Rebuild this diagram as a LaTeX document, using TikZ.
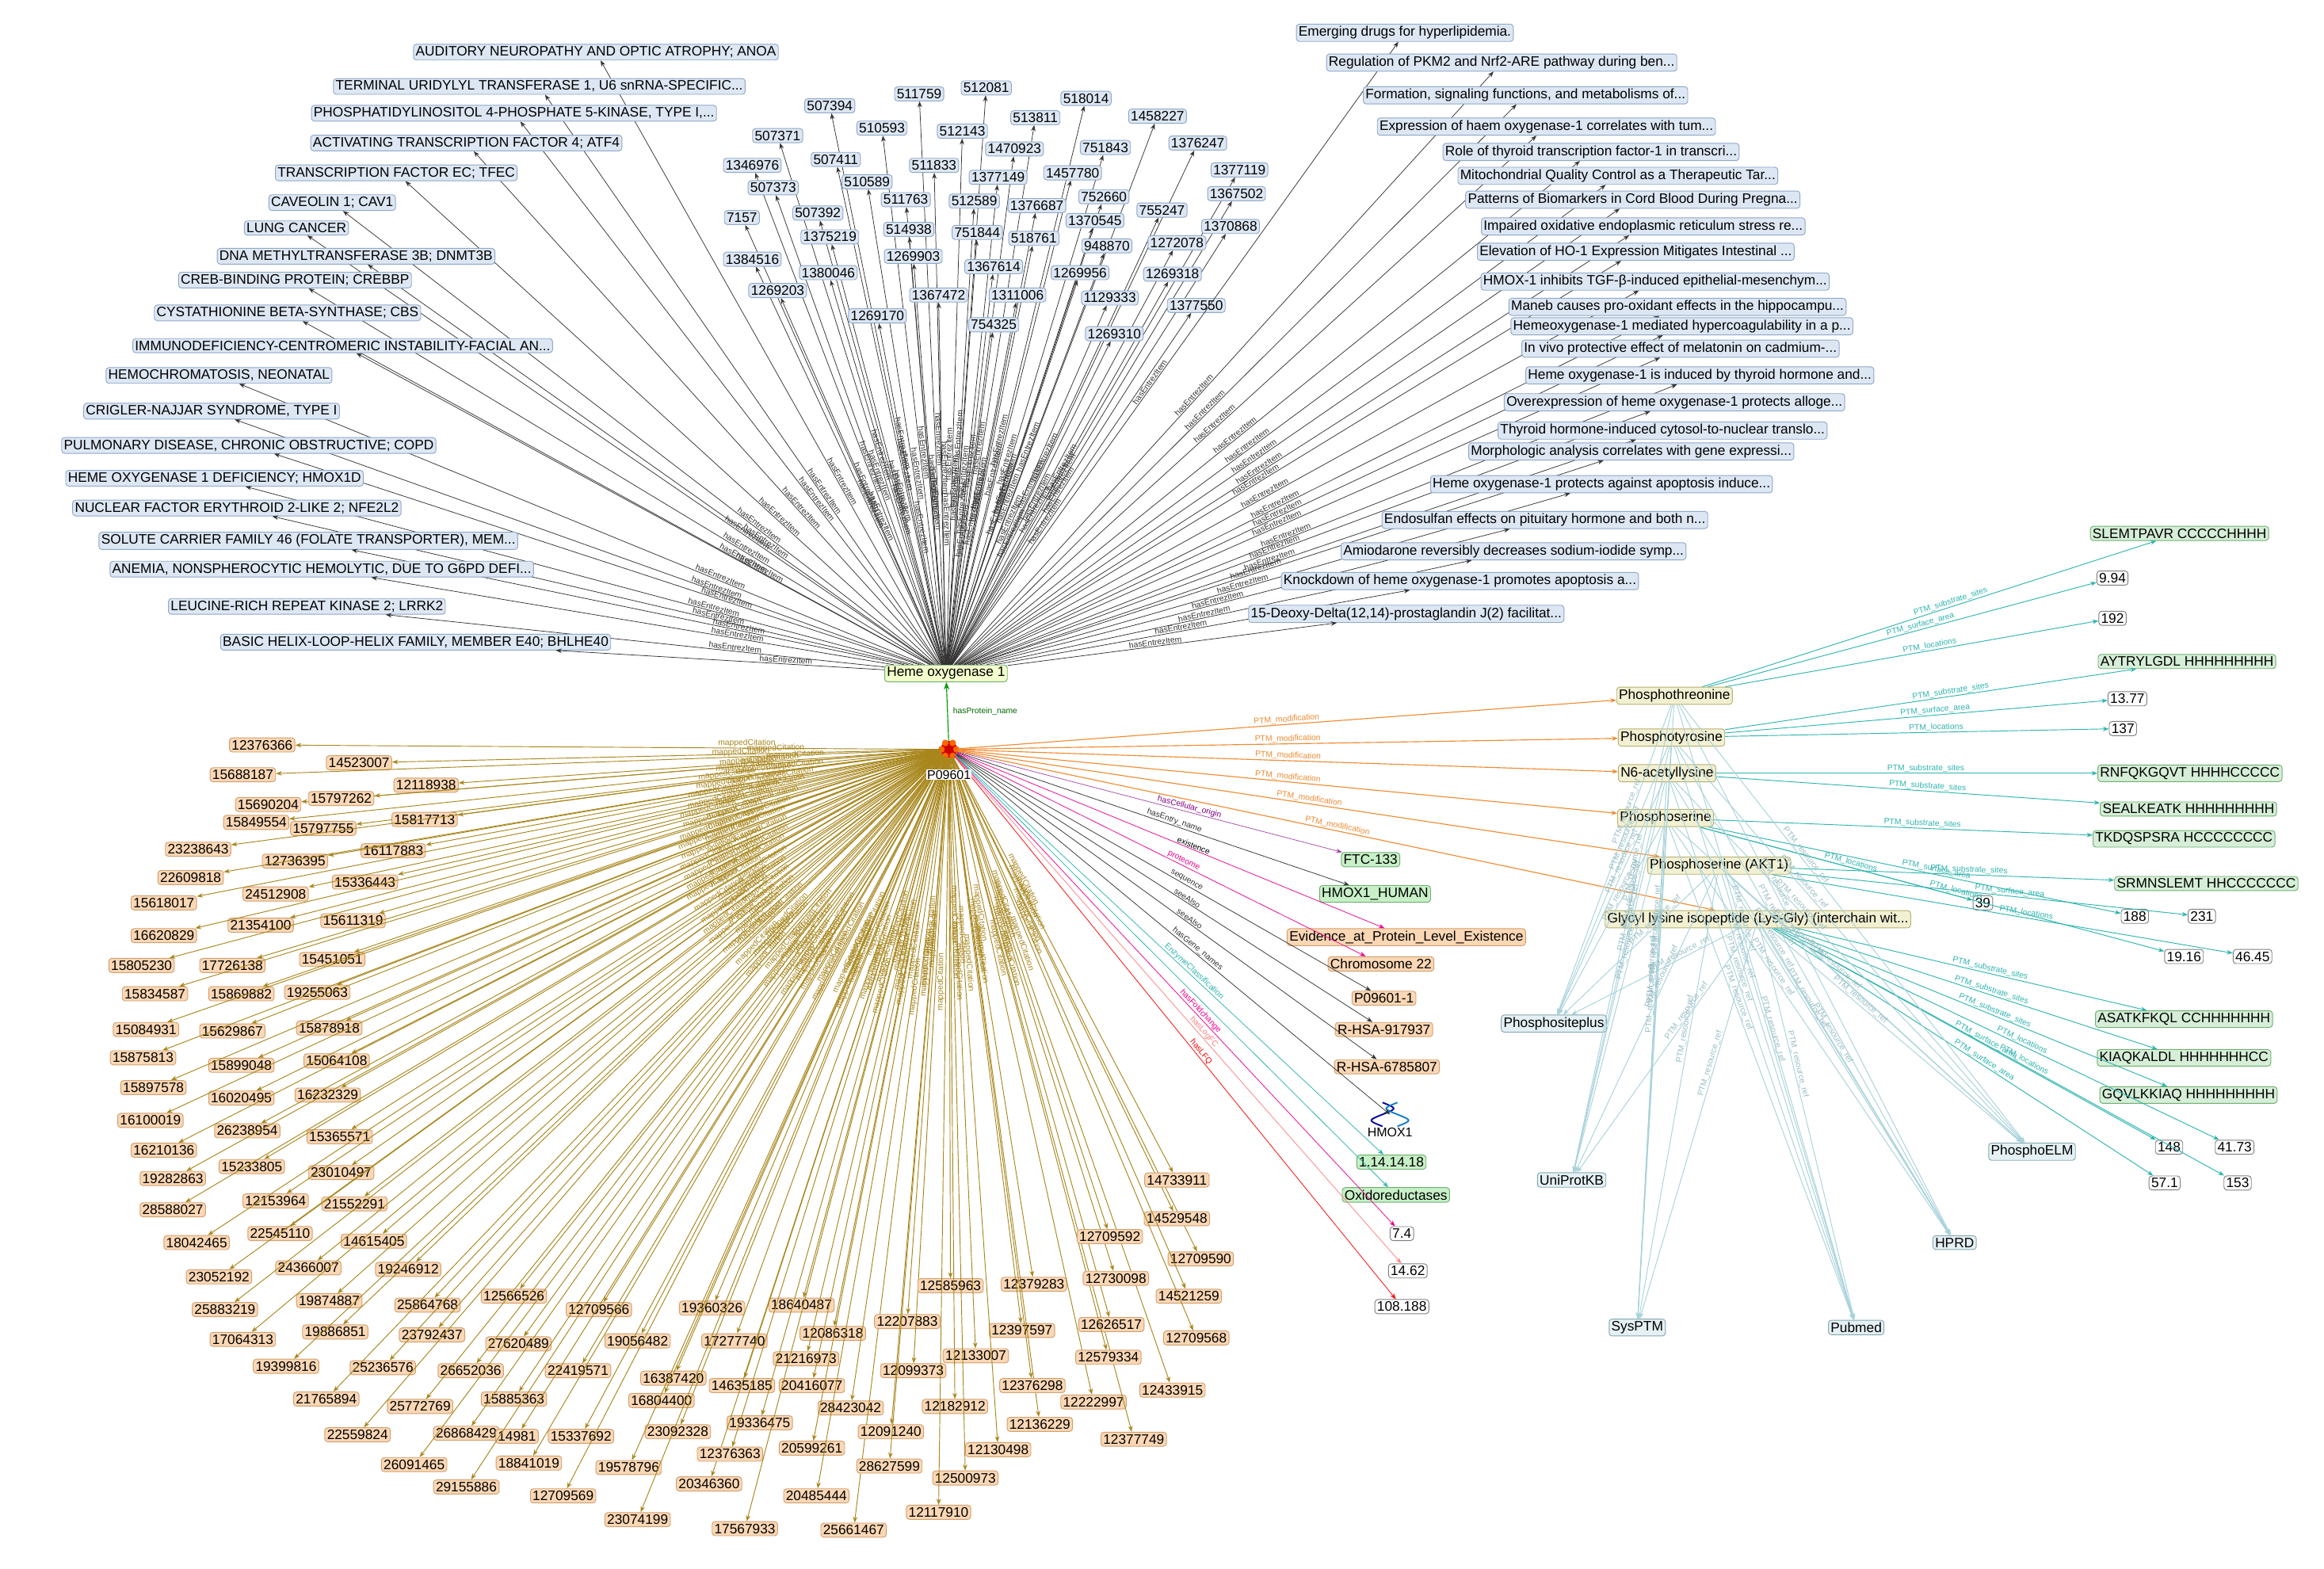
\documentclass[tikz,border=0pt]{standalone}
\usepackage{fontspec}
\setmainfont{Liberation Sans}
\usetikzlibrary{arrows.meta}
\definecolor{bfill}{HTML}{DDE7F3}\definecolor{bdraw}{HTML}{8FA8C8}
\definecolor{ofill}{HTML}{FAD7B5}\definecolor{odraw}{HTML}{D2A070}
\definecolor{olive}{HTML}{A8861C}
\definecolor{gfill}{HTML}{C8F0C8}\definecolor{gdraw}{HTML}{70B070}
\definecolor{pfill}{HTML}{F2F0D2}\definecolor{pdraw}{HTML}{B8B070}
\definecolor{sfill}{HTML}{D6EED8}
\definecolor{teal2}{HTML}{2EB5AE}\definecolor{lres}{HTML}{A8D2DA}
\definecolor{rfill}{HTML}{E4F0F4}
\definecolor{ptmo}{HTML}{F08A30}
\tikzset{
 x=1pt,y=-1pt,
 base/.style={draw,rounded corners=2pt,inner sep=1.5pt,font=\fontsize{9.2}{10}\selectfont,line width=0.5pt},
 bl/.style={base,fill=bfill,draw=bdraw},
 or/.style={base,fill=ofill,draw=odraw},
 gr/.style={base,fill=gfill,draw=gdraw},
 pt/.style={base,fill=pfill,draw=pdraw},
 sq/.style={base,fill=sfill,draw=gdraw},
 wh/.style={base,fill=white,draw=gray},
 rs/.style={base,fill=rfill,draw=lres!80!black},
 el/.style={font=\fontsize{5.5}{5.5}\selectfont,inner sep=0.5pt},
 be/.style={-{Stealth[length=4pt,width=3pt]},line width=0.4pt,black!80},
 oe/.style={-{Stealth[length=4pt,width=3pt]},line width=0.5pt,olive},
 te/.style={-{Stealth[length=4pt,width=3pt]},line width=0.5pt,teal2},
 re/.style={-{Stealth[length=4pt,width=3pt]},line width=0.5pt,lres},
 pe/.style={-{Stealth[length=4pt,width=3pt]},line width=0.6pt,ptmo},
}
\begin{document}
\begin{tikzpicture}
\useasboundingbox (0,0) rectangle (1560,1053);
\fill[white] (0,0) rectangle (1560,1053);
\node[base,fill=green!25!yellow!20,draw=gdraw] (ho) at (635,452) {Heme oxygenase 1};
\node[circle,fill=red!80!black,inner sep=4pt] (pi) at (637,503) {};
\foreach \a in {0,60,...,300}{\fill[orange!80!red] (pi.center)++(\a:5) circle (2.2);}
\draw[-{Stealth[length=5pt]},green!60!black,line width=0.6pt] (pi) -- (ho) node[el,pos=0.5,right,xshift=3pt,green!40!black]{hasProtein\_name};
% blue left
\foreach \x/\y/\t [count=\i] in {
400/35/{AUDITORY NEUROPATHY AND OPTIC ATROPHY; ANOA},
362/58/{TERMINAL URIDYLYL TRANSFERASE 1, U6 snRNA-SPECIFIC...},
345/76/{PHOSPHATIDYLINOSITOL 4-PHOSPHATE 5-KINASE, TYPE I,...},
313/96/{ACTIVATING TRANSCRIPTION FACTOR 4; ATF4},
266/116/{TRANSCRIPTION FACTOR EC; TFEC},
223/136/{CAVEOLIN 1; CAV1},
199/153/{LUNG CANCER},
239/172/{DNA METHYLTRANSFERASE 3B; DNMT3B},
198/188/{CREB-BINDING PROTEIN; CREBBP},
193/210/{CYSTATHIONINE BETA-SYNTHASE; CBS},
230/232/{IMMUNODEFICIENCY-CENTROMERIC INSTABILITY-FACIAL AN...},
147/252/{HEMOCHROMATOSIS, NEONATAL},
142/276/{CRIGLER-NAJJAR SYNDROME, TYPE I},
167/299/{PULMONARY DISEASE, CHRONIC OBSTRUCTIVE; COPD},
144/321/{HEME OXYGENASE 1 DEFICIENCY; HMOX1D},
159/341/{NUCLEAR FACTOR ERYTHROID 2-LIKE 2; NFE2L2},
207/363/{SOLUTE CARRIER FAMILY 46 (FOLATE TRANSPORTER), MEM...},
216/382/{ANEMIA, NONSPHEROCYTIC HEMOLYTIC, DUE TO G6PD DEFI...},
206/407/{LEUCINE-RICH REPEAT KINASE 2; LRRK2},
279/431/{BASIC HELIX-LOOP-HELIX FAMILY, MEMBER E40; BHLHE40}}
{\node[bl] (d\i) at (\x,\y) {\t};
 \draw[be] (ho) -- (d\i) node[el,pos=0.3,sloped,above]{hasEntrezItem};}
% blue numbers
\foreach \x/\y/\t [count=\i] in {557/71/507394,617/63/511759,662/59/512081,729/66/518014,777/78/1458227,522/91/507371,592/86/510593,646/88/512143,695/79/513811,804/96/1376247,505/111/1346976,561/107/507411,681/100/1470923,742/99/751843,627/111/511833,720/116/1457780,832/114/1377119,519/126/507373,582/122/510589,670/119/1377149,830/130/1367502,741/132/752660,549/143/507392,608/134/511763,654/135/512589,696/138/1376687,780/141/755247,498/146/7157,557/159/1375219,610/154/514938,656/156/751844,735/148/1370545,826/152/1370868,694/160/518761,743/165/948870,790/163/1272078,505/174/1384516,556/183/1380046,613/172/1269903,667/179/1367614,725/183/1269956,787/184/1269318,522/195/1269203,630/198/1367472,683/198/1311006,745/200/1129333,589/212/1269170,667/218/754325,803/205/1377550,748/224/1269310}
{\node[bl] (n\i) at (\x,\y) {\t};
 \draw[be] (ho) -- (n\i) node[el,pos=0.4,sloped,above]{hasEntrezItem};}
% papers
\foreach \x/\y/\t [count=\i] in {
943/22/{Emerging drugs for hyperlipidemia.},
1008/42/{Regulation of PKM2 and Nrf2-ARE pathway during ben...},
1024/64/{Formation, signaling functions, and metabolisms of...},
1038/85/{Expression of haem oxygenase-1 correlates with tum...},
1068/102/{Role of thyroid transcription factor-1 in transcri...},
1086/118/{Mitochondrial Quality Control as a Therapeutic Tar...},
1096/134/{Patterns of Biomarkers in Cord Blood During Pregna...},
1103/152/{Impaired oxidative endoplasmic reticulum stress re...},
1098/169/{Elevation of HO-1 Expression Mitigates Intestinal ...},
1111/189/{HMOX-1 inhibits TGF-β-induced epithelial-mesenchym...},
1126/206/{Maneb causes pro-oxidant effects in the hippocampu...},
1129/219/{Hemeoxygenase-1 mediated hypercoagulability in a p...},
1128/234/{In vivo protective effect of melatonin on cadmium-...},
1141/252/{Heme oxygenase-1 is induced by thyroid hormone and...},
1124/270/{Overexpression of heme oxygenase-1 protects alloge...},
1116/289/{Thyroid hormone-induced cytosol-to-nuclear translo...},
1095/303/{Morphologic analysis correlates with gene expressi...},
1075/325/{Heme oxygenase-1 protects against apoptosis induce...},
1037/349/{Endosulfan effects on pituitary hormone and both n...},
1016/370/{Amiodarone reversibly decreases sodium-iodide symp...},
980/390/{Knockdown of heme oxygenase-1 promotes apoptosis a...},
944/412/{15-Deoxy-Delta(12,14)-prostaglandin J(2) facilitat...}}
{\node[bl] (t\i) at (\x,\y) {\t};
 \draw[be] (ho) -- (t\i) node[el,pos=0.45,sloped,above]{hasEntrezItem};}
% orange citations
\foreach \x/\y/\t [count=\i] in {176/500/12376366,241/512/14523007,163/520/15688187,286/527/12118938,180/540/15690204,229/536/15797262,172/552/15849554,217/556/15797755,285/550/15817713,133/570/23238643,264/571/16117883,198/578/12736395,128/589/22609818,245/592/15336443,185/600/24512908,110/606/15618017,175/621/21354100,237/618/15611319,110/628/16620829,223/644/15451051,95/648/15805230,156/648/17726138,213/666/19255063,104/667/15834587,162/667/15869882,221/690/15878918,98/691/15084931,156/692/15629867,96/710/15875813,162/715/15899048,226/712/15064108,103/730/15897578,220/735/16232329,162/737/16020495,101/752/16100019,166/759/26238954,228/763/15365571,110/772/16210136,169/783/15233805,229/787/23010497,116/791/19282863,185/806/12153964,238/808/21552291,116/812/28588027,188/828/22545110,251/833/14615405,132/834/18042465,207/851/24366007,274/852/19246912,147/857/23052192,287/876/25864768,221/873/19874887,345/870/12566526,402/879/12709566,478/878/19360326,538/876/18640487,151/879/25883219,290/896/23792437,225/894/19886851,348/902/27620489,428/900/19056482,493/900/17277740,559/895/12086318,163/899/17064313,316/920/26652036,388/920/22419571,452/925/16387420,541/912/21216973,192/917/19399816,257/918/25236576,345/939/15885363,444/940/16804400,498/930/14635185,545/930/20416077,219/939/21765894,282/944/25772769,313/962/26868429,347/964/14981,390/964/15337692,455/961/23092328,510/955/19336475,571/945/28423042,240/963/22559824,278/983/26091465,355/982/18841019,422/985/19578796,476/996/20346360,545/972/20599261,490/976/12376363,313/998/29155886,378/1004/12709569,428/1020/23074199,500/1026/17567933,548/1004/20485444,573/1027/25661467,609/887/12207883,613/920/12099373,638/863/12585963,694/862/12379283,686/893/12397597,655/910/12133007,641/944/12182912,598/961/12091240,597/984/28627599,648/992/12500973,630/1015/12117910,670/973/12130498,698/956/12136229,693/930/12376298,734/941/12222997,761/966/12377749,746/889/12626517,744/911/12579334,787/933/12433915,749/858/12730098,745/830/12709592,806/845/12709590,790/818/14529548,790/792/14733911,798/870/14521259,803/898/12709568}
{\node[or] (c\i) at (\x,\y) {\t};
 \draw[oe] (pi) -- (c\i) node[el,pos=0.3,sloped,above,olive]{mappedCitation};}
% right side attributes
\node[gr] (ftc) at (920,577) {FTC-133};
\node[gr] (hum) at (923,600) {HMOX1\_HUMAN};
\node[or] (evi) at (944,629) {Evidence\_at\_Protein\_Level\_Existence};
\node[or] (chr) at (927,647) {Chromosome 22};
\node[or] (p1) at (929,670) {P09601-1};
\node[or] (r1) at (929,691) {R-HSA-917937};
\node[or] (r2) at (931,716) {R-HSA-6785807};
\node[font=\fontsize{8.5}{9}\selectfont] (hm) at (933,760) {HMOX1};
\draw[blue!60!black,line width=1pt] (928,740)..controls (938,744)..(928,748)..controls (918,752)..(928,756);
\draw[cyan!60!blue,line width=1pt] (938,740)..controls (928,744)..(938,748)..controls (948,752)..(938,756);
\coordinate (hmi) at (933,748);
\node[gr] (ec) at (934,780) {1.14.14.18};
\node[gr] (ox) at (937,802) {Oxidoreductases};
\node[wh] (v1) at (941,828) {7.4};
\node[wh] (v2) at (945,853) {14.62};
\node[wh] (v3) at (941,877) {108.188};
\draw[-{Stealth[length=4pt]},violet!70] (pi) -- (ftc) node[el,pos=0.6,sloped,above,violet]{hasCellular\_origin};
\draw[-{Stealth[length=4pt]},black!80] (pi) -- (hum) node[el,pos=0.55,sloped,above]{hasEntry\_name};
\draw[-{Stealth[length=4pt]},magenta] (pi) -- (evi) node[el,pos=0.55,sloped,above,black]{existence};
\draw[-{Stealth[length=4pt]},magenta] (pi) -- (chr) node[el,pos=0.55,sloped,above,magenta]{proteome};
\draw[-{Stealth[length=4pt]},black!80] (pi) -- (p1) node[el,pos=0.55,sloped,above]{sequence};
\draw[-{Stealth[length=4pt]},black!80] (pi) -- (r1) node[el,pos=0.55,sloped,above]{seeAlso};
\draw[-{Stealth[length=4pt]},black!80] (pi) -- (r2) node[el,pos=0.55,sloped,above]{seeAlso};
\draw[-{Stealth[length=4pt]},black!80] (pi) -- (hmi) node[el,pos=0.55,sloped,above]{hasGene\_names};
\draw[-{Stealth[length=4pt]},teal2] (pi) -- (ec) node[el,pos=0.55,sloped,above]{EnzymeClassification};
\draw[-{Stealth[length=4pt]},teal2] (pi) -- (ox);
\draw[-{Stealth[length=4pt]},magenta] (pi) -- (v1) node[el,pos=0.55,sloped,above]{hasFoldchange};
\draw[-{Stealth[length=4pt]},red!50] (pi) -- (v2) node[el,pos=0.55,sloped,above]{hasLogFC};
\draw[-{Stealth[length=4pt]},red] (pi) -- (v3) node[el,pos=0.55,sloped,above]{hasLFQ};
% PTM nodes
\node[pt] (m1) at (1124,467) {Phosphothreonine};
\node[pt] (m2) at (1122,495) {Phosphotyrosine};
\node[pt] (m3) at (1119,519) {N6-acetyllysine};
\node[pt] (m4) at (1118,549) {Phosphoserine};
\node[pt] (m5) at (1154,581) {Phosphoserine (AKT1)};
\node[pt] (m6) at (1180,617) {Glycyl lysine isopeptide (Lys-Gly) (interchain wit...};
\foreach \i in {1,...,6}{\draw[pe] (pi) -- (m\i) node[el,pos=0.5,sloped,above,ptmo]{PTM\_modification};}
% sequence and values
\foreach \n/\x/\y/\t in {s1/1463/358/{SLEMTPAVR CCCCCHHHH},s2/1468/444/{AYTRYLGDL HHHHHHHHH},s3/1470/519/{RNFQKGQVT HHHHCCCCC},s4/1469/543/{SEALKEATK HHHHHHHHH},s5/1466/563/{TKDQSPSRA HCCCCCCCC},s6/1481/593/{SRMNSLEMT HHCCCCCCC},s7/1466/684/{ASATKFKQL CCHHHHHHH},s8/1466/710/{KIAQKALDL HHHHHHHCC},s9/1469/735/{GQVLKKIAQ HHHHHHHHH}}
{\node[sq] (\n) at (\x,\y) {\t};}
\foreach \n/\x/\y/\t in {w1/1418/388/9.94,w2/1418/415/192,w3/1428/469/13.77,w4/1425/489/137,w5/1331/606/39,w6/1433/615/188,w7/1478/615/231,w8/1466/642/19.16,w9/1512/642/46.45,w10/1456/770/148,w11/1500/770/41.73,w12/1453/794/57.1,w13/1502/794/153}
{\node[wh] (\n) at (\x,\y) {\t};}
\foreach \a/\b/\l in {m1/s1/PTM\_substrate\_sites,m1/w1/PTM\_surface\_area,m1/w2/PTM\_locations,m2/s2/PTM\_substrate\_sites,m2/w3/PTM\_surface\_area,m2/w4/PTM\_locations,m3/s3/PTM\_substrate\_sites,m3/s4/PTM\_substrate\_sites,m4/s5/PTM\_substrate\_sites,m4/w5/PTM\_locations,m4/w6/PTM\_surface\_area,m4/w8/PTM\_locations,m5/s6/PTM\_substrate\_sites,m5/w7/PTM\_surface\_area,m5/w9/PTM\_locations,m6/s7/PTM\_substrate\_sites,m6/s8/PTM\_substrate\_sites,m6/s9/PTM\_substrate\_sites,m6/w10/PTM\_surface\_area,m6/w11/PTM\_locations,m6/w12/PTM\_surface\_area,m6/w13/PTM\_locations}
{\draw[te] (\a) -- (\b) node[el,pos=0.55,sloped,above,teal2]{\l};}
% resources
\node[rs] (q1) at (1043,687) {Phosphositeplus};
\node[rs] (q2) at (1055,792) {UniProtKB};
\node[rs] (q3) at (1099,891) {SysPTM};
\node[rs] (q4) at (1246,891) {Pubmed};
\node[rs] (q5) at (1312,834) {HPRD};
\node[rs] (q6) at (1364,773) {PhosphoELM};
\foreach \i in {1,...,6}{\foreach \j in {1,...,6}{
 \draw[re] (m\i) -- (q\j) node[el,pos=0.35,sloped,above,lres!90!black]{PTM\_resource\_ref};}}
\node[fill=white,inner sep=0.5pt,font=\fontsize{8.5}{9}\selectfont] (pp) at (637,520) {P09601};
\end{tikzpicture}
\end{document}
